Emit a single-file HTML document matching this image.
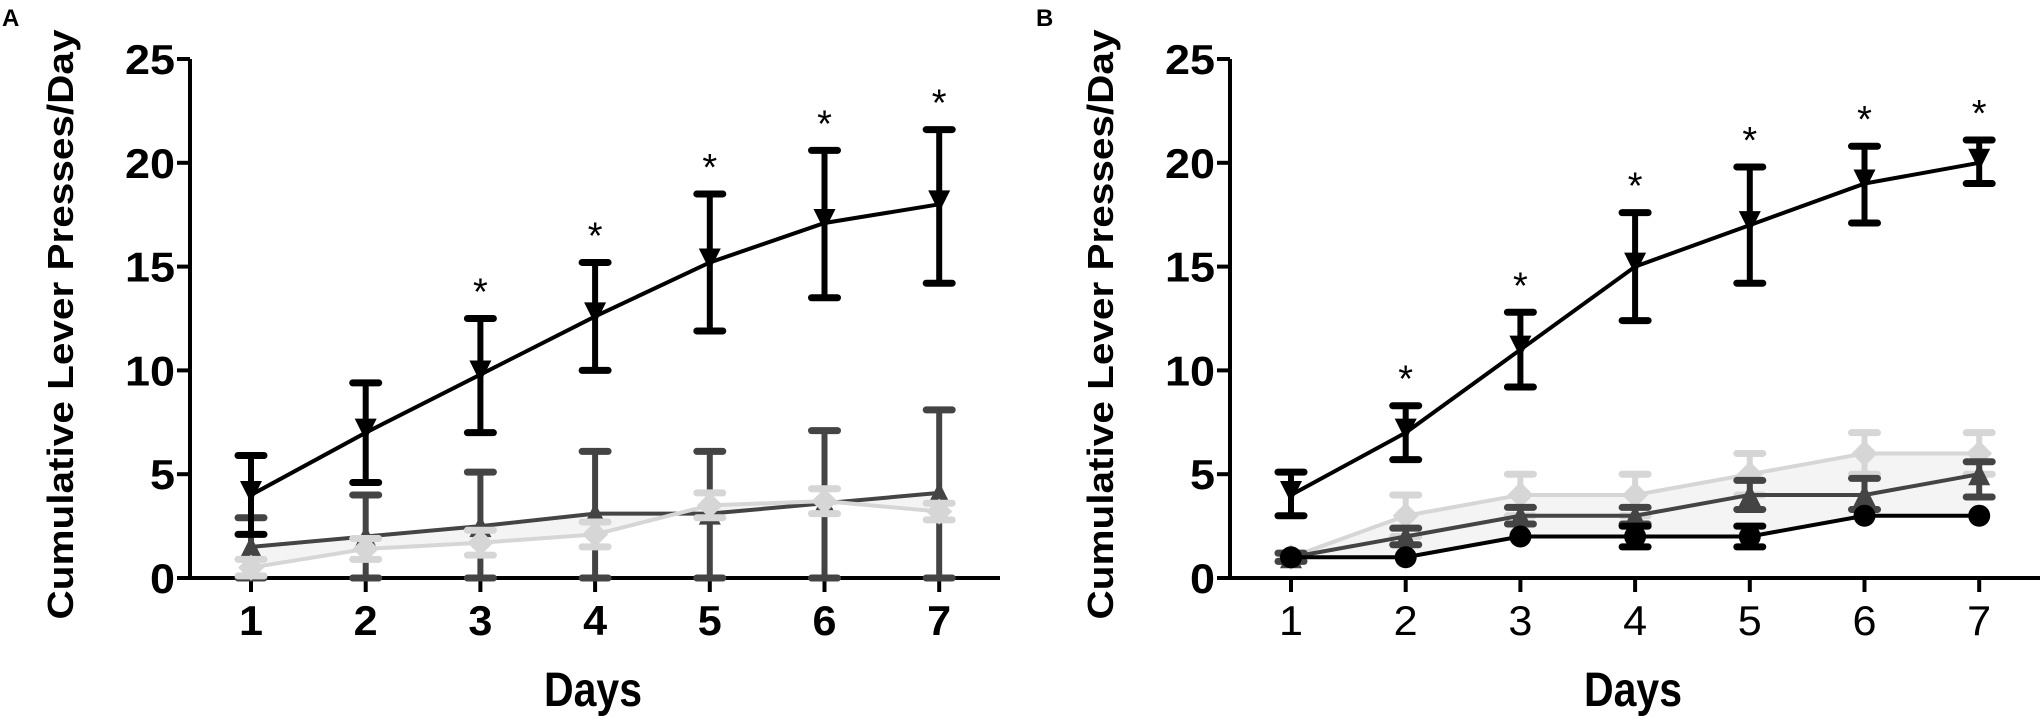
<!DOCTYPE html>
<html><head><meta charset="utf-8"><style>
body{margin:0;background:#fff;}
svg{display:block;font-family:"Liberation Sans",sans-serif;}
</style></head><body>
<svg id="c" width="2041" height="718" viewBox="0 0 2041 718">
<text x="2" y="26" font-size="24" font-weight="bold">A</text>
<text x="1036" y="26" font-size="24" font-weight="bold">B</text>
</svg>
<script>
const days=[1,2,3,4,5,6,7];
const yTicks=[0,5,10,15,20,25];
// Panel A
const aBlack=[4,7,9.8,12.6,15.2,17.1,18];
const aBlackLo=[2.1,4.6,7,10,11.9,13.5,14.2];
const aBlackHi=[5.9,9.4,12.5,15.2,18.5,20.6,21.6];
const aDark=[1.5,2,2.5,3.1,3.1,3.6,4.1];
const aDarkLo=[0,0,0,0,0,0,0];
const aDarkHi=[2.9,4,5.1,6.1,6.1,7.1,8.1];
const aLight=[0.5,1.4,1.7,2.1,3.5,3.7,3.2];
const aLightLo=[0.1,0.9,1.1,1.5,2.9,3.1,2.8];
const aLightHi=[0.9,1.9,2.3,2.7,4.1,4.3,3.6];
const aStars=[false,false,true,true,true,true,true];
// Panel B
const bBlack=[4,7,11,15,17,19,20];
const bBlackLo=[3,5.7,9.2,12.4,14.2,17.1,19];
const bBlackHi=[5.1,8.3,12.8,17.6,19.8,20.8,21.1];
const bLight=[1,3,4,4,5,6,6];
const bLightLo=[0.8,2,3,3,4,5,5];
const bLightHi=[1.2,4,5,5,6,7,7];
const bDark=[1,2,3,3,4,4,5];
const bDarkLo=[0.8,1.6,2.6,2.6,3.3,3.3,3.9];
const bDarkHi=[1.2,2.4,3.4,3.4,4.7,4.8,5.6];
const bCirc=[1,1,2,2,2,3,3];
const bCircLo=[1,1,2,1.5,1.5,3,3];
const bCircHi=[1,1,2,2.5,2.5,3,3];
const bStars=[false,true,true,true,true,true,true];

const svg=document.getElementById('c');
const NS='http://www.w3.org/2000/svg';
function mk(tag,attrs,parent){const e=document.createElementNS(NS,tag);for(const k in attrs)e.setAttribute(k,attrs[k]);(parent||svg).appendChild(e);return e;}

function panel(p){
  const g=mk('g',{});
  
  
  const U=20.76;
  const x=d=>p.x0+(d-1)*p.dx;
  const y=v=>p.y0-v*U;
  let pts=p.fillA.map((v,i)=>x(days[i])+','+y(v)).join(' ')+' '+p.fillB.map((v,i)=>x(days[i])+','+y(v)).reverse().join(' ');
  const f=mk('polygon',{points:pts,fill:'#f4f4f4'},g);
  
  
  const ax=mk('line',{x1:p.ax,y1:y(25),x2:p.ax,y2:y(0)+2,stroke:'#000','stroke-width':4},g);
  
  
  const xa=mk('line',{x1:p.ax-2,y1:y(0),x2:p.ax+810,y2:y(0),stroke:'#000','stroke-width':4},g);
  
  
  yTicks.forEach(t=>{
    mk('line',{x1:p.ax-13,y1:y(t),x2:p.ax,y2:y(t),stroke:'#000','stroke-width':4},g);
    const s=String(t);
    const tx=mk('text',{x:p.ax-15,y:y(t)+15,'font-size':42,'font-weight':'bold','text-anchor':'end',textLength:s.length*25,lengthAdjust:'spacingAndGlyphs'},g);
    tx.textContent=t;
    
    
  });
  days.forEach(d=>{
    mk('line',{x1:x(d),y1:y(0),x2:x(d),y2:y(0)+14,stroke:'#000','stroke-width':4},g);
    const tx=mk('text',{x:x(d),y:y(0)+57,'font-size':42,'font-weight':p.boldX?'bold':'normal','text-anchor':'middle',textLength:24,lengthAdjust:'spacingAndGlyphs'},g);
    tx.textContent=d;
    
    
  });
  const yt=mk('text',{x:0,y:0,'font-size':36,'font-weight':'bold','text-anchor':'middle',textLength:590,lengthAdjust:'spacingAndGlyphs',transform:`translate(${p.ax-117},${y(12.5)+6}) rotate(-90)`},g);
  yt.textContent='Cumulative Lever Presses/Day';
  
  
  const xt=mk('text',{x:p.ax+403,y:706,'font-size':48,'font-weight':'bold','text-anchor':'middle',textLength:98,lengthAdjust:'spacingAndGlyphs'},g);
  xt.textContent='Days';
  
  
  p.series.forEach(s=>{
    const sg=mk('g',{},g);
    
    
    mk('polyline',{points:s.v.map((v,i)=>x(days[i])+','+y(v)).join(' '),fill:'none',stroke:s.c,'stroke-width':4},sg);
    s.v.forEach((v,i)=>{
      const cx=x(days[i]),cy=y(v);
      if(s.hi[i]!==s.lo[i]){
        mk('line',{x1:cx,y1:y(s.lo[i]),x2:cx,y2:y(s.hi[i]),stroke:s.c,'stroke-width':6},sg);
        [s.lo[i],s.hi[i]].forEach(e=>mk('line',{x1:cx-13,y1:y(e),x2:cx+13,y2:y(e),stroke:s.c,'stroke-width':7,'stroke-linecap':'round'},sg));
      }
      let m;
      if(s.m==='down')m=mk('polygon',{points:`${cx-11},${cy-14} ${cx+11},${cy-14} ${cx},${cy+8}`,fill:s.c},sg);
      else if(s.m==='up')m=mk('polygon',{points:`${cx-11},${cy+11} ${cx+11},${cy+11} ${cx},${cy-11}`,fill:s.c},sg);
      else if(s.m==='dia')m=mk('polygon',{points:`${cx},${cy-13} ${cx+13},${cy} ${cx},${cy+13} ${cx-13},${cy}`,fill:s.c},sg);
      else m=mk('circle',{cx:cx,cy:cy,r:11,fill:s.c},sg);
      
      
    });
  });
  p.stars.forEach((st,i)=>{
    if(!st)return;
    const tx=mk('text',{x:x(days[i]),y:y(p.starRef[i])-14,'font-size':38,'text-anchor':'middle'},g);
    tx.textContent='*';
    
    
  });
}
panel({name:'panel-a',ax:190,x0:251,dx:114.7,y0:578,boldX:true,fillA:aDark,fillB:aLight,stars:aStars,starRef:aBlackHi,
  series:[
   {name:'series-dark-triangle',v:aDark,lo:aDarkLo,hi:aDarkHi,c:'#444',m:'up'},
   {name:'series-light-diamond',v:aLight,lo:aLightLo,hi:aLightHi,c:'#d6d6d6',m:'dia'},
   {name:'series-black-inverted-triangle',v:aBlack,lo:aBlackLo,hi:aBlackHi,c:'#000',m:'down'}]});
panel({name:'panel-b',ax:1230,x0:1291,dx:114.7,y0:578,boldX:false,fillA:bLight,fillB:bCirc,stars:bStars,starRef:bBlackHi,
  series:[
   {name:'series-light-diamond',v:bLight,lo:bLightLo,hi:bLightHi,c:'#d6d6d6',m:'dia'},
   {name:'series-dark-triangle',v:bDark,lo:bDarkLo,hi:bDarkHi,c:'#444',m:'up'},
   {name:'series-black-circle',v:bCirc,lo:bCircLo,hi:bCircHi,c:'#000',m:'circ'},
   {name:'series-black-inverted-triangle',v:bBlack,lo:bBlackLo,hi:bBlackHi,c:'#000',m:'down'}]});
</script>
</body></html>
